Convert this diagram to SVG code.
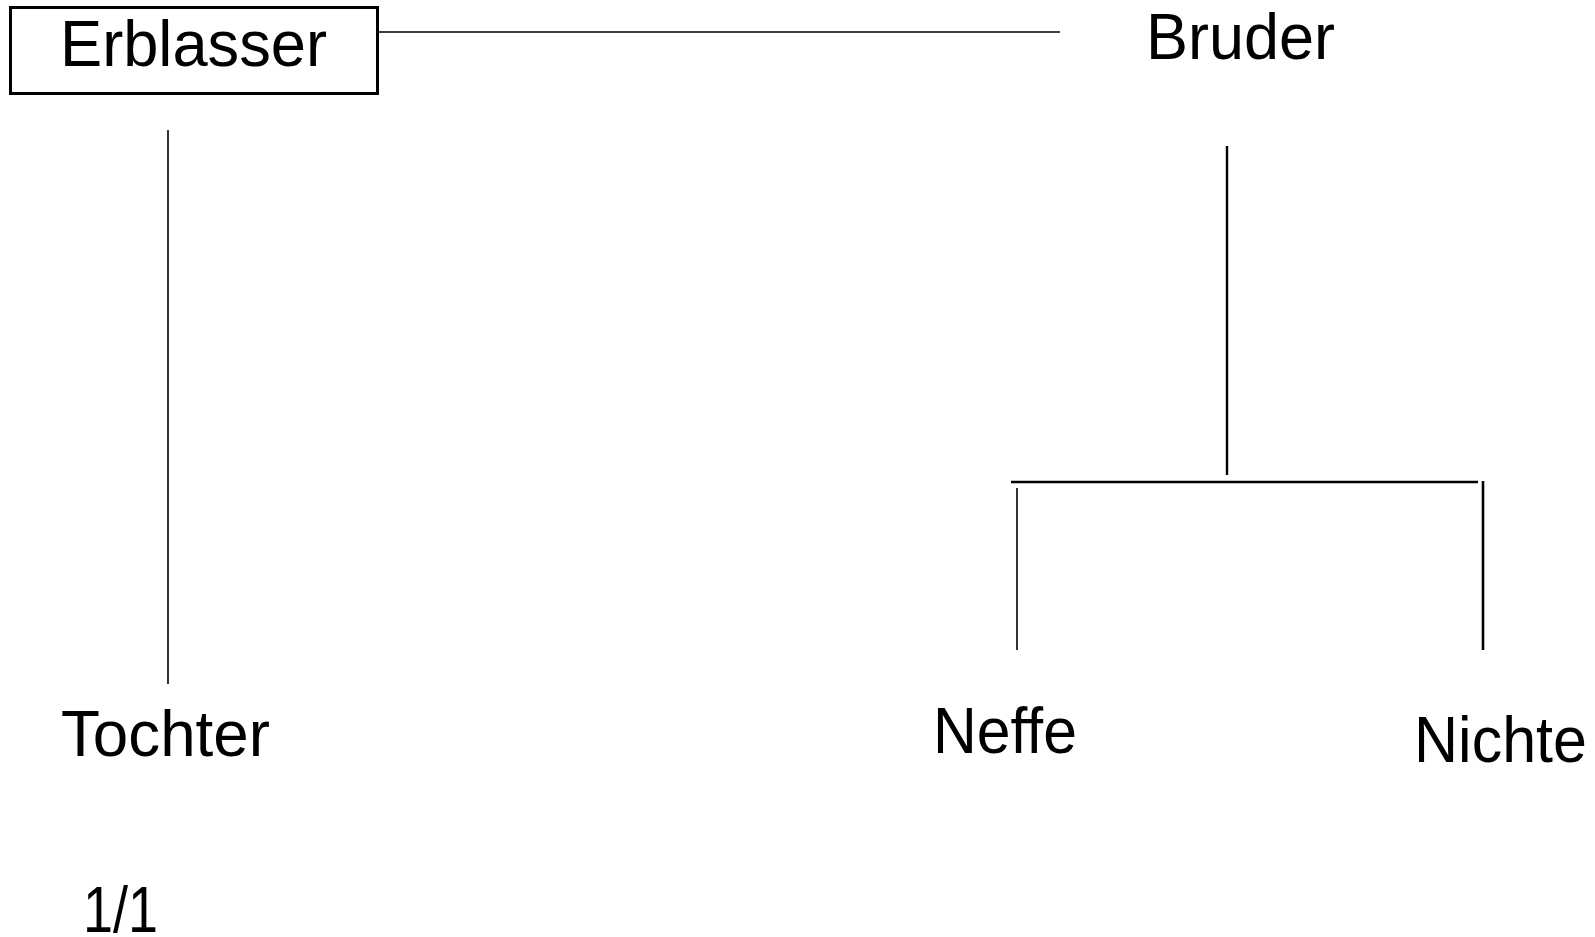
<svg xmlns="http://www.w3.org/2000/svg" width="1595" height="937" viewBox="0 0 1595 937">
<style>
.t{font-family:"Liberation Sans",Arial,sans-serif;font-size:65px;fill:#000}
.c{stroke:#000;fill:none}
</style>
<rect width="1595" height="937" fill="#fff"/>
<g id="connectors">
<line class="c" x1="378" y1="32" x2="1060" y2="32" stroke-width="1.6"/>
<line class="c" x1="168" y1="130" x2="168" y2="684" stroke-width="1.6"/>
<line class="c" x1="1227" y1="146" x2="1227" y2="475" stroke-width="2.4"/>
<line class="c" x1="1011" y1="482" x2="1478" y2="482" stroke-width="2.4"/>
<line class="c" x1="1017" y1="488" x2="1017" y2="650" stroke-width="1.6"/>
<line class="c" x1="1483" y1="481" x2="1483" y2="650" stroke-width="2.6"/>
</g>
<g id="erblasser">
<rect x="10.5" y="7.5" width="367" height="86" fill="#fff" stroke="#000" stroke-width="3"/>
<text class="t" x="60" y="66" textLength="267" lengthAdjust="spacingAndGlyphs">Erblasser</text>
</g>
<g id="bruder">
<text class="t" x="1146" y="59" textLength="189" lengthAdjust="spacingAndGlyphs">Bruder</text>
</g>
<g id="tochter">
<text class="t" x="61" y="756" textLength="209" lengthAdjust="spacingAndGlyphs">Tochter</text>
</g>
<g id="neffe">
<text class="t" x="933" y="753" textLength="144" lengthAdjust="spacingAndGlyphs">Neffe</text>
</g>
<g id="nichte">
<text class="t" x="1414" y="762" textLength="173" lengthAdjust="spacingAndGlyphs">Nichte</text>
</g>
<g id="anteil">
<text class="t" x="83" y="932" textLength="75" lengthAdjust="spacingAndGlyphs">1/1</text>
</g>
</svg>
